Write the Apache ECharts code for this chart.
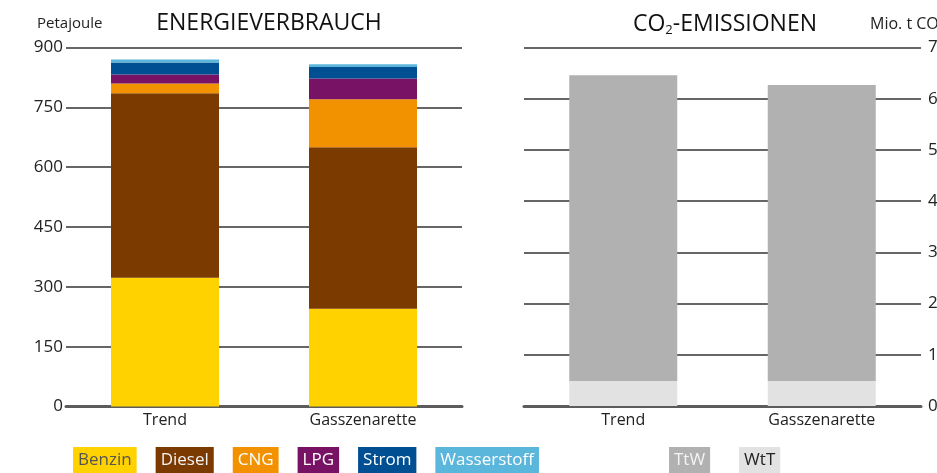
<!DOCTYPE html>
<html>
<head>
<meta charset="utf-8">
<script src="https://cdn.jsdelivr.net/npm/echarts@6/dist/echarts.min.js"></script>
<style>
  html, body { margin: 0; padding: 0; background: #fff; }
  #chart { width: 937px; height: 473px; }
</style>
</head>
<body>
<div id="chart"></div>
<script>
// Szenarien
const categories = ['Trend', 'Gasszenarette'];

// Energieverbrauch nach Energieträger, Petajoule
const benzin      = [323, 245];
const diesel      = [462, 405];
const cng         = [25, 120];
const lpg         = [22.5, 52.5];
const strom       = [30, 28.5];
const wasserstoff = [7.5, 7];

// CO2-Emissionen, Mio. t CO2
const ttw = [59.7, 57.8];
const wtt = [4.9, 4.9];

// Achsenbeschriftungen
const energyTicks = [0, 150, 300, 450, 600, 750, 900];
const co2Ticks = [0, 10, 20, 30, 40, 50, 60, 70];

const FONT = '"Open Sans", Lato, sans-serif';
const GRID_COLOR = '#666';
const AXIS_COLOR = '#5c5c5c';

const energySeries = [
  { name: 'Benzin', data: benzin, color: '#FFD200' },
  { name: 'Diesel', data: diesel, color: '#7B3A00' },
  { name: 'CNG', data: cng, color: '#F39200' },
  { name: 'LPG', data: lpg, color: '#771264' },
  { name: 'Strom', data: strom, color: '#004F93' },
  { name: 'Wasserstoff', data: wasserstoff, color: '#5BB6DC' }
];
const co2Series = [
  { name: 'WtT', data: wtt, color: '#E2E2E2' },
  { name: 'TtW', data: ttw, color: '#B1B1B1' }
];

const legendLabel = {
  Benzin: '#555', Diesel: '#f2f2f2', CNG: '#fff', LPG: '#fff',
  Strom: '#fff', Wasserstoff: '#fff', TtW: '#f4f4f4', WtT: '#222'
};
const colorOf = {};
energySeries.concat(co2Series).forEach(s => { colorOf[s.name] = s.color; });

function legendItem(name) {
  return {
    name: name,
    icon: 'rect',
    itemStyle: { opacity: 0 },
    textStyle: {
      color: legendLabel[name],
      backgroundColor: colorOf[name],
      padding: [6, 5, 4, 5],
      fontSize: 17,
      fontFamily: FONT
    }
  };
}

function xAxisFor(gridIndex) {
  return {
    type: 'category',
    gridIndex: gridIndex,
    data: categories,
    axisTick: { show: false },
    axisLine: { show: true, lineStyle: { color: AXIS_COLOR, width: 3 } },
    axisLabel: { color: '#222', fontSize: 16, fontFamily: FONT, margin: 6 }
  };
}

const chart = echarts.init(document.getElementById('chart'), null, { renderer: 'canvas' });

chart.setOption({
  animation: false,
  backgroundColor: '#fff',
  textStyle: { fontFamily: FONT },
  title: [
    {
      text: 'ENERGIEVERBRAUCH',
      left: 264, top: 7, textAlign: 'center',
      textStyle: { fontSize: 23, fontWeight: 'normal', color: '#111', fontFamily: FONT }
    },
    {
      text: '{t|CO}{s|2}{t|-EMISSIONEN}',
      left: 720, top: 7, textAlign: 'center',
      textStyle: {
        fontWeight: 'normal',
        rich: {
          t: { fontSize: 23, fontWeight: 'normal', color: '#111', fontFamily: FONT },
          s: { fontSize: 13, fontWeight: 'normal', color: '#111', fontFamily: FONT, padding: [12, 0, 0, 0] }
        }
      }
    },
    {
      text: 'Petajoule',
      left: 32, top: 11,
      textStyle: { fontSize: 15, fontWeight: 'normal', color: '#222', fontFamily: FONT }
    },
    {
      text: '{t|Mio. t CO}{s|2}',
      left: 865, top: 11,
      textStyle: {
        fontWeight: 'normal',
        rich: {
          t: { fontSize: 16, fontWeight: 'normal', color: '#222', fontFamily: FONT },
          s: { fontSize: 9, fontWeight: 'normal', color: '#222', fontFamily: FONT, padding: [8, 0, 0, 0] }
        }
      }
    }
  ],
  legend: [
    {
      left: 63, top: 442,
      itemWidth: 0, itemHeight: 0, itemGap: 14,
      selectedMode: false,
      data: energySeries.map(s => legendItem(s.name))
    },
    {
      left: 659, top: 442,
      itemWidth: 0, itemHeight: 0, itemGap: 24,
      selectedMode: false,
      data: ['TtW', 'WtT'].map(legendItem)
    }
  ],
  grid: [
    { left: 66, top: 47.5, width: 396, height: 359, outerBoundsMode: 'none', containLabel: false },
    { left: 524, top: 47.5, width: 397, height: 358.5, outerBoundsMode: 'none', containLabel: false }
  ],
  xAxis: [xAxisFor(0), xAxisFor(1)],
  yAxis: [
    {
      type: 'value', gridIndex: 0,
      min: energyTicks[0], max: energyTicks[energyTicks.length - 1],
      interval: energyTicks[1] - energyTicks[0],
      axisLine: { show: false }, axisTick: { show: false },
      splitLine: { show: true, lineStyle: { color: GRID_COLOR, width: 2 } },
      axisLabel: { color: '#222', fontSize: 17, fontFamily: FONT, margin: 3 }
    },
    {
      type: 'value', gridIndex: 1, position: 'right',
      min: co2Ticks[0], max: co2Ticks[co2Ticks.length - 1],
      interval: co2Ticks[1] - co2Ticks[0],
      axisLine: { show: false }, axisTick: { show: false },
      splitLine: { show: true, lineStyle: { color: GRID_COLOR, width: 2 } },
      axisLabel: { color: '#222', fontSize: 17, fontFamily: FONT, margin: 7 }
    }
  ],
  series: energySeries.map(s => ({
    type: 'bar', name: s.name, stack: 'energie',
    xAxisIndex: 0, yAxisIndex: 0,
    barWidth: 108,
    itemStyle: { color: s.color },
    data: s.data
  })).concat(co2Series.map(s => ({
    type: 'bar', name: s.name, stack: 'co2',
    xAxisIndex: 1, yAxisIndex: 1,
    barWidth: 108,
    itemStyle: { color: s.color },
    data: s.data
  })))
});
</script>
</body>
</html>
